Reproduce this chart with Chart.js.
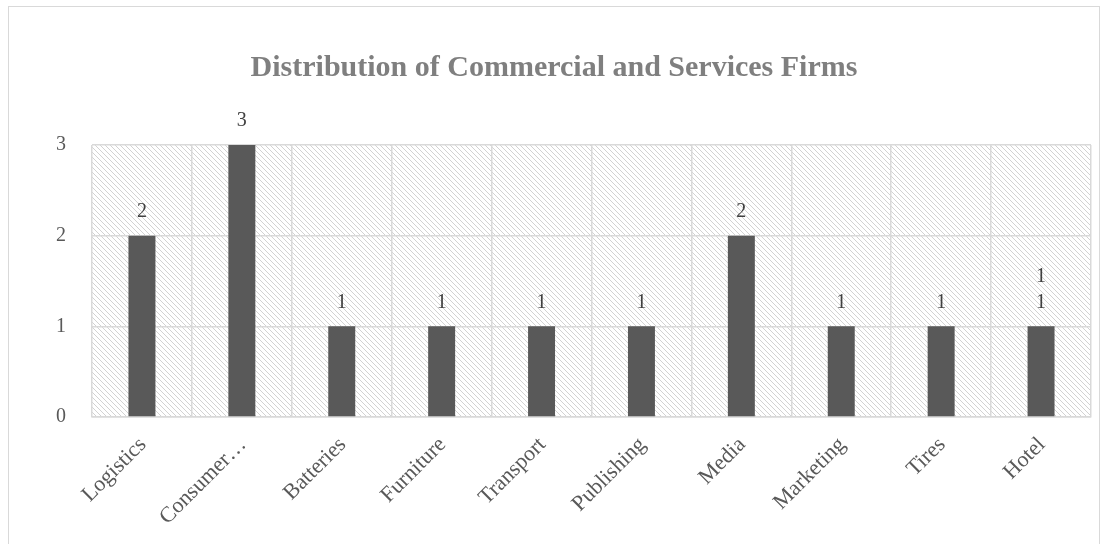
<!DOCTYPE html>
<html>
<head>
<meta charset="utf-8">
<script src="https://cdn.jsdelivr.net/npm/chart.js@4.4.1/dist/chart.umd.min.js"></script>
<style>
  html, body { margin: 0; padding: 0; background: #fff; }
  #frame {
    position: absolute; left: 8px; top: 6px; width: 1092px; height: 560px;
    border: 1px solid #d9d9d9; box-sizing: border-box;
  }
  #wrap { position: absolute; left: 0; top: 0; width: 1108px; height: 544px; }
</style>
</head>
<body>
<div id="frame"></div>
<div id="wrap"><canvas id="chart"></canvas></div>
<script>
// ── Data ────────────────────────────────────────────
const categories = ['Logistics', 'Consumer…', 'Batteries', 'Furniture', 'Transport',
  'Publishing', 'Media', 'Marketing', 'Tires', 'Hotel'];
const firmCounts = [2, 3, 1, 1, 1, 1, 2, 1, 1, 1];
// Hotel carries a second, overlapping data label in the original
const extraLabels = [null, null, null, null, null, null, null, null, null, '1'];
const yTicks = [0, 1, 2, 3];

const SERIF = '"Liberation Serif", "Times New Roman", serif';

// ── Hatched plot background ─────────────────────────
function makeHatch(ctx) {
  const tile = document.createElement('canvas');
  tile.width = 5; tile.height = 5;
  const t = tile.getContext('2d');
  t.strokeStyle = '#d2d2d2';
  t.lineWidth = 1;
  t.beginPath();
  t.moveTo(-1, -1); t.lineTo(6, 6);
  t.moveTo(-1, 4); t.lineTo(1, 6);
  t.moveTo(4, -1); t.lineTo(6, 1);
  t.stroke();
  return ctx.createPattern(tile, 'repeat');
}

const hatchBackground = {
  id: 'hatchBackground',
  beforeDraw(chart) {
    const { ctx, chartArea: a } = chart;
    ctx.save();
    ctx.fillStyle = makeHatch(ctx);
    ctx.fillRect(a.left, a.top, a.right - a.left, a.bottom - a.top);
    ctx.restore();
  },
};

// ── Value labels above bars ─────────────────────────
const barLabels = {
  id: 'barLabels',
  afterDatasetsDraw(chart) {
    const { ctx } = chart;
    const meta = chart.getDatasetMeta(0);
    ctx.save();
    ctx.font = '20px ' + SERIF;
    ctx.fillStyle = '#404040';
    ctx.textAlign = 'center';
    ctx.textBaseline = 'bottom';
    meta.data.forEach((bar, i) => {
      ctx.fillText(String(firmCounts[i]), bar.x, bar.y - 14);
      if (extraLabels[i]) ctx.fillText(extraLabels[i], bar.x, bar.y - 40);
    });
    ctx.restore();
  },
};

new Chart(document.getElementById('chart').getContext('2d'), {
  type: 'bar',
  data: {
    labels: categories,
    datasets: [{
      label: 'Firms',
      data: firmCounts,
      backgroundColor: '#595959',
      barPercentage: 0.27,
      categoryPercentage: 1,
    }],
  },
  options: {
    responsive: true,
    maintainAspectRatio: false,
    animation: false,
    layout: { padding: { left: 17, right: 17, top: 0, bottom: 0 } },
    plugins: {
      legend: { display: false },
      tooltip: { enabled: false },
      title: {
        display: true,
        text: 'Distribution of Commercial and Services Firms',
        color: '#7f7f7f',
        font: { family: SERIF, size: 30, weight: 'bold', lineHeight: 1.2 },
        padding: { top: 50, bottom: 59 },
      },
    },
    scales: {
      x: {
        grid: { color: '#d9d9d9', lineWidth: 1.5, offset: true, drawTicks: false },
        border: { color: '#d9d9d9', width: 1.5 },
        ticks: {
          color: '#595959',
          font: { family: SERIF, size: 22 },
          maxRotation: 45,
          minRotation: 45,
          padding: 15,
          labelOffset: 1,
          autoSkip: false,
        },
        afterFit(scale) { scale.height = 127; },
      },
      y: {
        min: 0,
        max: 3,
        grid: { color: '#d9d9d9', lineWidth: 1.5, drawTicks: false },
        border: { display: false },
        afterBuildTicks(scale) { scale.ticks = yTicks.map(v => ({ value: v })); },
        ticks: {
          color: '#595959',
          font: { family: SERIF, size: 20 },
          padding: 26,
        },
        afterFit(scale) { scale.width = 75; },
      },
    },
  },
  plugins: [hatchBackground, barLabels],
});
</script>
</body>
</html>
